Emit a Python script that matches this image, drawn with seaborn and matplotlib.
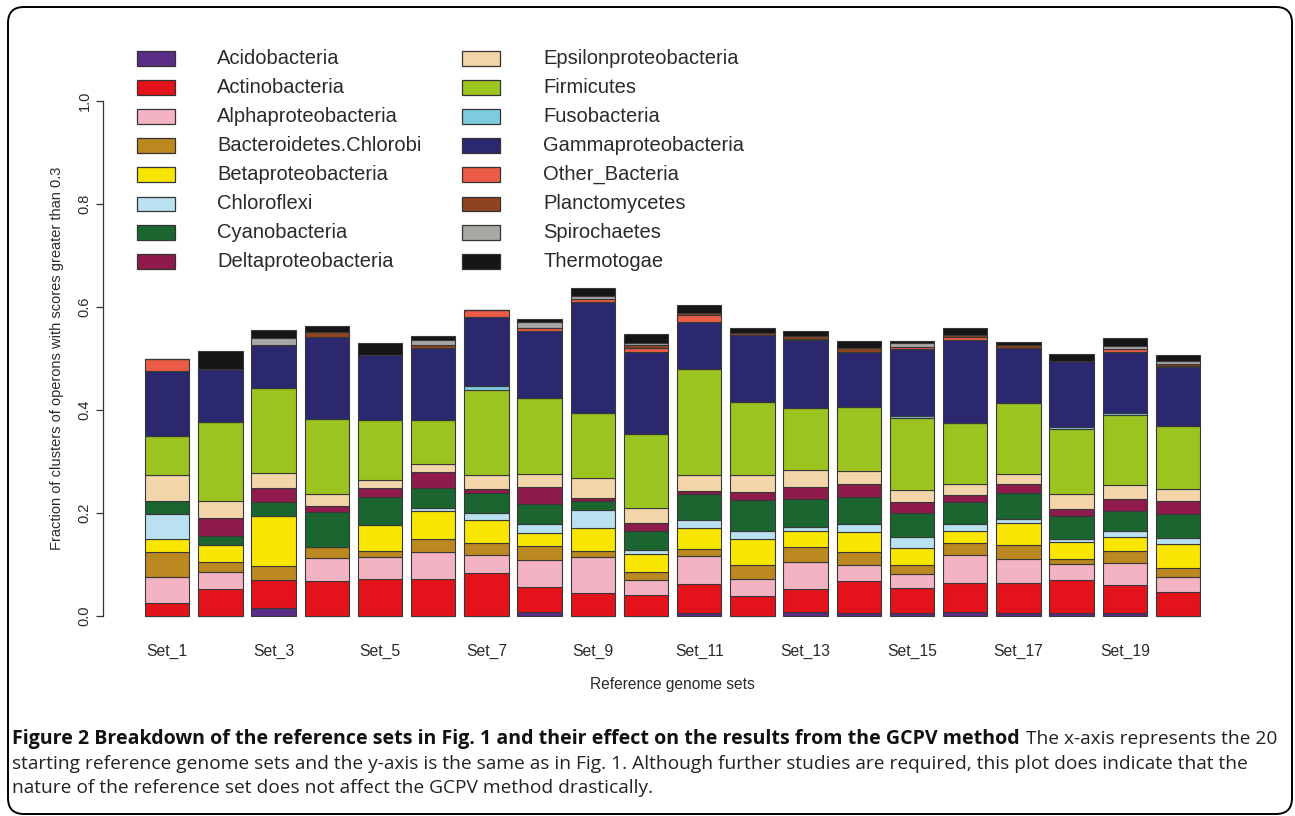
import numpy as np
import pandas as pd
import matplotlib
matplotlib.use("Agg")
import matplotlib.pyplot as plt
import seaborn as sns
from matplotlib.patches import Rectangle, FancyBboxPatch
from matplotlib.transforms import IdentityTransform

# ---- data: fraction contributed by each phylum, per reference set ----
sets = [f"Set_{i}" for i in range(1, 21)]

acidobacteria       = [0, 0, 0.015, 0, 0, 0, 0, 0.008, 0, 0, 0.006, 0, 0.007, 0.005, 0.005, 0.008, 0.006, 0.005, 0.005, 0]
actinobacteria      = [0.025, 0.052, 0.055, 0.067, 0.071, 0.071, 0.083, 0.049, 0.044, 0.041, 0.056, 0.039, 0.045, 0.062, 0.049, 0.056, 0.059, 0.064, 0.055, 0.046]
alphaproteobacteria = [0.050, 0.034, 0, 0.045, 0.044, 0.054, 0.036, 0.052, 0.071, 0.028, 0.055, 0.033, 0.053, 0.032, 0.027, 0.054, 0.045, 0.032, 0.043, 0.030]
bacteroidetes       = [0.050, 0.018, 0.028, 0.022, 0.011, 0.024, 0.023, 0.026, 0.012, 0.016, 0.014, 0.028, 0.029, 0.025, 0.019, 0.023, 0.028, 0.010, 0.023, 0.017]
betaproteobacteria  = [0.024, 0.034, 0.096, 0, 0.051, 0.054, 0.045, 0.026, 0.044, 0.036, 0.040, 0.050, 0.031, 0.039, 0.032, 0.024, 0.043, 0.032, 0.027, 0.046]
chloroflexi         = [0.050, 0, 0, 0, 0, 0.007, 0.013, 0.018, 0.034, 0.008, 0.015, 0.016, 0.008, 0.015, 0.021, 0.014, 0.007, 0.006, 0.012, 0.012]
cyanobacteria       = [0.025, 0.017, 0.027, 0.068, 0.054, 0.038, 0.038, 0.039, 0.019, 0.036, 0.051, 0.060, 0.054, 0.053, 0.047, 0.043, 0.050, 0.045, 0.039, 0.047]
deltaproteobacteria = [0, 0.035, 0.027, 0.012, 0.017, 0.031, 0.008, 0.032, 0.005, 0.015, 0.005, 0.014, 0.023, 0.025, 0.021, 0.012, 0.019, 0.014, 0.023, 0.025]
epsilonproteobact   = [0.050, 0.034, 0.029, 0.023, 0.017, 0.016, 0.028, 0.025, 0.038, 0.029, 0.031, 0.033, 0.033, 0.025, 0.024, 0.023, 0.019, 0.029, 0.028, 0.023]
firmicutes          = [0.075, 0.153, 0.166, 0.146, 0.115, 0.085, 0.164, 0.149, 0.127, 0.144, 0.206, 0.142, 0.121, 0.125, 0.139, 0.117, 0.138, 0.127, 0.135, 0.122]
fusobacteria        = [0, 0, 0, 0, 0, 0, 0.008, 0, 0, 0, 0, 0, 0, 0, 0.004, 0, 0, 0.003, 0.004, 0]
gammaproteobacteria = [0.126, 0.103, 0.084, 0.158, 0.126, 0.140, 0.135, 0.129, 0.216, 0.159, 0.091, 0.130, 0.131, 0.106, 0.131, 0.161, 0.107, 0.128, 0.118, 0.116]
other_bacteria      = [0.025, 0, 0, 0, 0, 0, 0.014, 0.006, 0.006, 0.008, 0.015, 0, 0.003, 0, 0.003, 0.006, 0, 0, 0.006, 0.002]
planctomycetes      = [0, 0, 0, 0.011, 0, 0.007, 0, 0, 0, 0.006, 0.004, 0.004, 0.006, 0.008, 0, 0.005, 0.005, 0, 0, 0.004]
spirochaetes        = [0, 0, 0.012, 0, 0, 0.008, 0, 0.012, 0.006, 0.005, 0, 0, 0, 0, 0.008, 0, 0, 0, 0.006, 0.005]
thermotogae         = [0, 0.035, 0.016, 0.012, 0.025, 0.008, 0, 0.006, 0.015, 0.016, 0.015, 0.011, 0.009, 0.014, 0.004, 0.013, 0.006, 0.014, 0.015, 0.011]

phyla = ["Acidobacteria", "Actinobacteria", "Alphaproteobacteria", "Bacteroidetes.Chlorobi",
         "Betaproteobacteria", "Chloroflexi", "Cyanobacteria", "Deltaproteobacteria",
         "Epsilonproteobacteria", "Firmicutes", "Fusobacteria", "Gammaproteobacteria",
         "Other_Bacteria", "Planctomycetes", "Spirochaetes", "Thermotogae"]
series = [acidobacteria, actinobacteria, alphaproteobacteria, bacteroidetes,
          betaproteobacteria, chloroflexi, cyanobacteria, deltaproteobacteria,
          epsilonproteobact, firmicutes, fusobacteria, gammaproteobacteria,
          other_bacteria, planctomycetes, spirochaetes, thermotogae]
colors = ["#5A2D86", "#E3121B", "#F4B3C2", "#BC8820", "#F9E600", "#B9E1F0",
          "#1B6630", "#8E1B4B", "#F3D5AA", "#9CC421", "#7ECCE0", "#2B286F",
          "#EC5B45", "#8E4420", "#A9A7A4", "#151515"]

# ---- figure ----
sns.set_theme(style="white")
plt.rcParams["font.family"] = ["Liberation Sans", "DejaVu Sans"]
W, H = 1295, 816
fig = plt.figure(figsize=(W / 100, H / 100), dpi=100)
fig.patch.set_facecolor("white")

ax_left, ax_right, ax_bottom, ax_top = 102.8, 1242.0, 636.6, 80.4
ax = fig.add_axes([ax_left / W, 1 - ax_bottom / H,
                   (ax_right - ax_left) / W, (ax_bottom - ax_top) / H])

bottom = np.zeros(len(sets))
for name, vals, col in zip(phyla, series, colors):
    vals = np.asarray(vals, dtype=float)
    df = pd.DataFrame({"set": sets, "fraction": vals})
    sns.barplot(data=df, x="set", y="fraction", bottom=bottom, color=col,
                saturation=1, width=0.833, edgecolor="#383838", linewidth=0.8,
                errorbar=None, ax=ax)
    bottom = bottom + vals

ax.set_xlim(-1.2105, 20.203)
ax.set_ylim(-0.04, 1.04)
for s in ["top", "right", "bottom"]:
    ax.spines[s].set_visible(False)
ax.spines["left"].set_bounds(0, 1)
ax.spines["left"].set_color("#333333")
ax.spines["left"].set_linewidth(0.9)

text_col = "#2a2a2a"
ax.set_yticks([0, 0.2, 0.4, 0.6, 0.8, 1.0])
ax.set_yticklabels(["0.0", "0.2", "0.4", "0.6", "0.8", "1.0"], rotation=90,
                   va="center", fontsize=10.5, color=text_col)
ax.tick_params(axis="y", left=True, length=5, width=0.9, color="#333333", pad=3)

ax.set_xticks(range(0, 20, 2))
ax.set_xticklabels(sets[::2], fontsize=11.3, color=text_col)
ax.tick_params(axis="x", bottom=False, length=0, pad=5)

ax.set_xlabel("Reference genome sets", fontsize=11.2, color=text_col)
ax.xaxis.set_label_coords(0.5, (ax_bottom - 677) / (ax_bottom - ax_top))
ax.set_ylabel("Fraction of clusters of operons with scores greater than 0.3",
              fontsize=10.5, color=text_col)
ax.yaxis.set_label_coords((64 - ax_left) / (ax_right - ax_left), 0.5)
ax.grid(False)

# ---- legend: two columns of boxes and names ----
row0, row_step = 58.5, 29.0
for k, (name, col) in enumerate(zip(phyla, colors)):
    c, r = divmod(k, 8)
    cy = row0 + r * row_step
    bx = 137 if c == 0 else 462
    tx = 217 if c == 0 else 543
    fig.add_artist(Rectangle((bx / W, 1 - (cy + 7) / H), 38 / W, 14 / H,
                             transform=fig.transFigure, facecolor=col,
                             edgecolor="#333333", linewidth=0.9))
    fig.text(tx / W, 1 - cy / H, name, fontsize=14.5, color=text_col,
             va="center", ha="left")

# ---- caption ----
cap_font = ["Open Sans", "DejaVu Sans"]
renderer = fig.canvas.get_renderer()
t_bold = fig.text(12 / W, 1 - 739 / H,
                  "Figure 2 Breakdown of the reference sets in Fig. 1 and their effect on the results from the GCPV method",
                  fontsize=14.1, fontweight="bold", family=cap_font, color="#111111",
                  va="center", ha="left")
bb = t_bold.get_window_extent(renderer)
fig.text((bb.x1 + 6) / W, 1 - 739 / H, "The x-axis represents the 20",
         fontsize=13.8, family=cap_font, color="#222222", va="center", ha="left")
fig.text(12 / W, 1 - 764 / H,
         "starting reference genome sets and the y-axis is the same as in Fig. 1. Although further studies are required, this plot does indicate that the",
         fontsize=13.8, family=cap_font, color="#222222", va="center", ha="left")
fig.text(12 / W, 1 - 788 / H,
         "nature of the reference set does not affect the GCPV method drastically.",
         fontsize=13.8, family=cap_font, color="#222222", va="center", ha="left")

# ---- rounded outer frame ----
frame = FancyBboxPatch((8, H - 814), 1284, 807,
                       boxstyle="round,pad=0,rounding_size=16",
                       transform=IdentityTransform(), fill=False,
                       edgecolor="black", linewidth=1.4)
fig.add_artist(frame)

fig.savefig("out.png", dpi=100)
